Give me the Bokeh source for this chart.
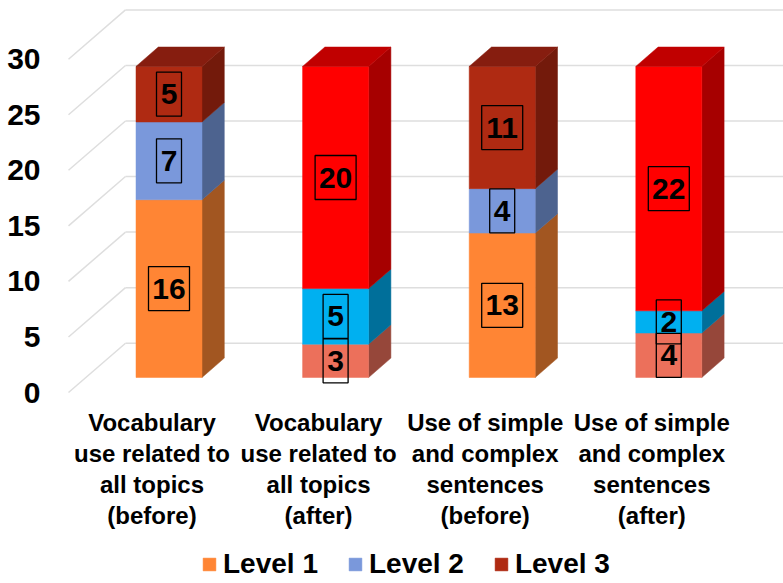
from bokeh.core.properties import value
from bokeh.embed import file_html
from bokeh.models import (ColumnDataSource, FixedTicker, Legend, LegendItem,
                          LinearAxis, Range1d)
from bokeh.plotting import figure
from bokeh.resources import INLINE

# Chart values
categories = [
    "Vocabulary\nuse related to\nall topics\n(before)",
    "Vocabulary\nuse related to\nall topics\n(after)",
    "Use of simple\nand complex\nsentences\n(before)",
    "Use of simple\nand complex\nsentences\n(after)",
]
level_names = ["Level 1", "Level 2", "Level 3"]
level_1 = [16, 3, 13, 4]
level_2 = [7, 5, 4, 2]
level_3 = [5, 20, 11, 22]
y_ticks = [0, 5, 10, 15, 20, 25, 30]

# Face colours per column: front, side, top
front_1 = ["#FF8534", "#EC705B", "#FF8534", "#EC705B"]
side_1 = ["#A25621", "#96473A", "#A25621", "#96473A"]
front_2 = ["#7A98DB", "#00B0F0", "#7A98DB", "#00B0F0"]
side_2 = ["#4D638F", "#006F9A", "#4D638F", "#006F9A"]
front_3 = ["#AF2A12", "#FF0000", "#AF2A12", "#FF0000"]
side_3 = ["#731A0B", "#A60000", "#731A0B", "#A60000"]
top_3 = ["#861D0F", "#C00000", "#861D0F", "#C00000"]

# Page geometry
W, H = 783, 583
LEFT = 50                    # room for the value axis
PX_PER_UNIT = 11.11          # vertical pixels per value
PX_PER_CAT = 166.6           # horizontal pixels per category
BASE_PY = 377.0              # pixel row of the bars' baseline
FIRST_PX = 168.5             # pixel column of the first bar's centre

x_start = (LEFT - FIRST_PX) / PX_PER_CAT
x_end = (W - FIRST_PX) / PX_PER_CAT
y_start = (BASE_PY - H) / PX_PER_UNIT
y_end = BASE_PY / PX_PER_UNIT

BAR_W = 66 / PX_PER_CAT
DX = 22.3 / PX_PER_CAT       # oblique depth of the bars
DY = 19.4 / PX_PER_UNIT
WALL_LIFT = (BASE_PY - 342.7) / PX_PER_UNIT    # back wall's zero above the baseline
FLOOR_DROP = (392 - BASE_PY) / PX_PER_UNIT     # front edge of the floor below it
WALL_X0 = (125 - FIRST_PX) / PX_PER_CAT
FLOOR_X0 = (68 - FIRST_PX) / PX_PER_CAT

FONT = "Liberation Sans"

p = figure(width=W, height=H, output_backend="svg", toolbar_location=None,
           x_range=Range1d(x_start, x_end), y_range=Range1d(y_start, y_end),
           min_border_left=LEFT, min_border_right=0, min_border_top=0,
           min_border_bottom=0, outline_line_color=None,
           background_fill_color="white", border_fill_color="white")
p.xaxis.visible = False
p.yaxis.visible = False
p.xgrid.visible = False
p.ygrid.visible = False

# Value axis, aligned with the floor's front edge
p.extra_y_ranges["front"] = Range1d(y_start + FLOOR_DROP, y_end + FLOOR_DROP)
axis = LinearAxis(y_range_name="front", ticker=FixedTicker(ticks=y_ticks),
                  axis_line_color=None, major_tick_line_color=None,
                  minor_tick_line_color=None, major_label_standoff=4,
                  major_label_text_font=FONT,
                  major_label_text_font_style="bold",
                  major_label_text_font_size="30px",
                  major_label_text_color="#000000")
p.add_layout(axis, "left")

# Back wall gridlines and their diagonals across the side wall
grid = "#DEDEDE"
wall_y = [t + WALL_LIFT for t in y_ticks]
floor_y = [t - FLOOR_DROP for t in y_ticks]
p.segment(x0=[WALL_X0] * 7, x1=[x_end] * 7, y0=wall_y, y1=wall_y,
          line_color=grid, line_width=1.5)
p.segment(x0=[FLOOR_X0] * 7, x1=[WALL_X0] * 7, y0=floor_y, y1=wall_y,
          line_color=grid, line_width=1.5)

xs = list(range(len(categories)))
stacks = [(level_1, front_1, side_1), (level_2, front_2, side_2), (level_3, front_3, side_3)]
bottoms = [0] * len(xs)
legend_items = []
box_x, box_y, box_w, labels = [], [], [], []

for name, (vals, front, side) in zip(level_names, stacks):
    tops = [b + v for b, v in zip(bottoms, vals)]
    right = [x + BAR_W / 2 for x in xs]
    side_xs = [[r, r + DX, r + DX, r] for r in right]
    side_ys = [[b, b + DY, t + DY, t] for b, t in zip(bottoms, tops)]
    p.patches(side_xs, side_ys, fill_color=side, line_color=side, line_width=0.5)
    src = ColumnDataSource(dict(x=xs, bottom=bottoms, top=tops, color=front))
    r = p.vbar(x="x", bottom="bottom", top="top", width=BAR_W, source=src,
               fill_color="color", line_color="color", line_width=0.5)
    legend_items.append(LegendItem(label=name, renderers=[r], index=0))
    for x, b, v in zip(xs, bottoms, vals):
        box_x.append(x)
        box_y.append(b + v / 2)
        box_w.append(41 if v >= 10 else 25)
        labels.append(str(v))
    bottoms = tops

# Top faces of the stacks
top_xs = [[x - BAR_W / 2, x + BAR_W / 2, x + BAR_W / 2 + DX, x - BAR_W / 2 + DX] for x in xs]
top_ys = [[t, t, t + DY, t + DY] for t in bottoms]
p.patches(top_xs, top_ys, fill_color=top_3, line_color=top_3, line_width=0.5)

# Boxed value labels
p.rect(x=box_x, y=box_y, width=box_w, height=[44] * len(box_x),
       width_units="screen", height_units="screen",
       fill_color=None, line_color="#000000", line_width=1.3)
p.text(x=box_x, y=box_y, text=labels, text_font=value(FONT),
       text_font_style="bold", text_font_size="30px", text_color="#000000",
       text_align="center", text_baseline="middle")

# Category labels under the bars
label_x = [x - 17 / PX_PER_CAT for x in xs]
label_y = [(BASE_PY - 408) / PX_PER_UNIT] * len(xs)
p.text(x=label_x, y=label_y, text=categories, text_font=value(FONT),
       text_font_style="bold", text_font_size="24px", text_color="#000000",
       text_align="center", text_baseline="top", text_line_height=1.16)

legend = Legend(items=legend_items, orientation="horizontal",
                location=(201 - LEFT, H - 580), padding=0, margin=0, spacing=29,
                glyph_width=16, glyph_height=16, label_standoff=6,
                label_text_font=FONT, label_text_font_style="bold",
                label_text_font_size="28px", label_text_color="#000000",
                background_fill_alpha=0, border_line_color=None)
p.add_layout(legend, "center")

open("out.html", "w").write(file_html(p, INLINE))
